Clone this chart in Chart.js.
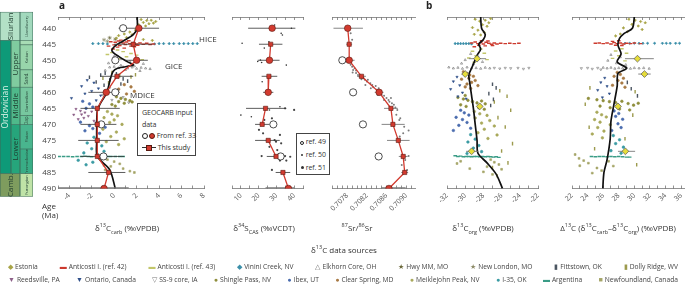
<!DOCTYPE html>
<html>
<head>
<meta charset="utf-8">
<script src="https://cdn.jsdelivr.net/npm/chart.js@4.4.1/dist/chart.umd.min.js"></script>
<style>
body { margin: 0; width: 685px; height: 293px; position: relative; overflow: hidden; background: #fff;
  font-family: 'Open Sans', sans-serif; color: #333; }
canvas { position: absolute; left: 0; top: 0; }
.t { position: absolute; white-space: nowrap; font-size: 8px; line-height: 1; }
.c { transform: translate(-50%, -50%); }
sup, sub { font-size: 5.5px; line-height: 0; }
.box { position: absolute; border: 0.8px solid #444; background: #fff; font-size: 7.1px; line-height: 11.6px; padding: 3px 0 0 4px; box-sizing: border-box; white-space: nowrap; letter-spacing: -0.1px; }
.oc, .rc { display: inline-block; width: 6px; height: 6px; border-radius: 50%; vertical-align: -1px; box-sizing: border-box; }
.oc { border: 1px solid #222; background: #fff; }
.rc { background: #d23a2f; border: 0.7px solid #5a1a10; margin-left: 1px; }
.rs { display: inline-block; position: relative; width: 14px; height: 6px; vertical-align: -1px; }
.rs:before { content: ''; position: absolute; left: 0; right: 0; top: 2.5px; height: 1px; background: #333; }
.rs:after { content: ''; position: absolute; left: 4px; top: 0; width: 6px; height: 6px; background: #d23a2f; border: 0.6px solid #5a1a10; box-sizing: border-box; }
.legend { position: absolute; left: 8px; width: 670px; display: flex; justify-content: space-between; font-size: 6.7px; line-height: 1; white-space: nowrap; color: #444; }
.legend span.g { margin-right: 2px; font-size: 7px; }
</style>
</head>
<body>
<canvas id="pa1" width="685" height="293"></canvas>
<canvas id="pa2" width="685" height="293"></canvas>
<canvas id="pa3" width="685" height="293"></canvas>
<canvas id="pb1" width="685" height="293"></canvas>
<canvas id="pb2" width="685" height="293"></canvas>

<div class="t" style="left:59px;top:0px;font-size:10px;font-weight:bold;color:#222">a</div>
<div class="t" style="left:426px;top:0px;font-size:10px;font-weight:bold;color:#222">b</div>
<div class="t" style="left:199px;top:35px">HICE</div>
<div class="t" style="left:165px;top:62px">GICE</div>
<div class="t" style="left:130px;top:91px">MDICE</div>
<div class="box" style="left:137px;top:103px;width:59px;height:53px">
  <div>GEOCARB input</div>
  <div>data</div>
  <div><span class="oc"></span><span class="rc"></span> From ref. 33</div>
  <div><span class="rs"></span> This study</div>
</div>
<div class="box" style="left:296px;top:133px;width:34px;height:42px;font-size:7px;line-height:13px;padding-top:1px;padding-left:3px">
  <div><span class="oc" style="width:4px;height:4px;border-width:0.7px"></span> ref. 49</div>
  <div><span style="display:inline-block;width:2px;height:2px;background:#333;border-radius:50%;vertical-align:1px;margin:0 1px"></span> ref. 50</div>
  <div><span style="display:inline-block;width:3px;height:3px;background:#333;border-radius:50%;vertical-align:1px;margin:0 0.5px"></span> ref. 51</div>
</div>
<div class="t" style="left:42px;top:201px;line-height:9px;font-size:8px">Age<br>(Ma)</div>

<div class="t c" style="left:127px;top:228px">δ<sup>13</sup>C<sub>carb</sub> (‰VPDB)</div>
<div class="t c" style="left:264px;top:228px">δ<sup>34</sup>S<sub>CAS</sub> (‰VCDT)</div>
<div class="t c" style="left:357px;top:228px"><sup>87</sup>Sr/<sup>86</sup>Sr</div>
<div class="t c" style="left:483px;top:228px">δ<sup>13</sup>C<sub>org</sub> (‰VPDB)</div>
<div class="t c" style="left:618px;top:228px">Δ<sup>13</sup>C (δ<sup>13</sup>C<sub>carb</sub>–δ<sup>13</sup>C<sub>org</sub>) (‰VPDB)</div>
<div class="t c" style="left:344px;top:250px">δ<sup>13</sup>C data sources</div>

<div class="legend" id="leg1" style="top:263px"></div>
<div class="legend" id="leg2" style="top:276px"></div>

<script>
// ---- sample ages for the binned GEOCARB inputs ----
const ages = [440, 445, 450, 455, 460, 465, 470, 475, 480, 485, 490];
const markerKind = ['c', 's', 'c', 's', 'c', 's', 's', 's', 's', 's', 'c']; // c = ref. 33, s = this study
const openAgesCarb = [440, 450, 460, 470, 480];
const openAgesSulf = [470, 480];
const openAgesSr = [450, 460, 470, 480];

// ---- δ13C carb ----
const carbStudy = [2.2, 1.7, 2.0, 0.25, -0.7, -1.5, -1.5, -1.5, -1.5, -0.5, -0.9];
const carbLo = [0.4, 0.0, 1.0, -1.25, -2.3, -3.0, -3.0, -3.2, -3.0, -2.3, null];
const carbHi = [4.0, 3.4, 3.0, 1.7, 0.5, 0.5, 0.2, 0.4, 0.9, 1.0, null];
const carbBand = [-5, 1.3];
const carbOpen = [0.8, 0.1, 0.1, -1.15, -0.95];
const carbCurve = [[2.05,436.5],[2.05,440],[1.7,442],[0.8,444],[0.1,445.5],[-0.2,447],[0.4,448.8],[1.2,450.5],[1.7,451.5],[0.3,452.5],[-0.1,453.5],[-0.35,456],[-0.65,460],[-1.25,463.6],[-1.5,465.8],[-1.55,470],[-1.55,475],[-1.5,480],[-0.4,484.1],[0.1,490]];

const carbEstonia = [[2.4,437.3],[2.9,437.6],[3.3,437.5],[3.7,437.9],[2.6,438.2],[3.1,438.6],[2.2,438.9],[3.5,438.4],[2.8,439.3],[1.9,440.6],[1.4,441.2],[0.9,441.8],[0.4,442.3],[1.6,442.0],[0.2,443.1],[2.6,443.5],[1.1,442.9],[3.4,443.8]];
const carbAnti42 = [[-0.3,444.2],[0.1,444.4],[0.4,444.0],[0.8,444.6],[1.1,444.3],[1.4,444.8],[1.7,444.5],[2.0,444.9],[2.3,444.6],[2.6,445.0],[2.9,444.7],[3.2,445.1],[3.5,444.9],[0.0,445.2],[0.5,445.4],[1.0,445.1],[1.5,445.6],[2.1,445.3],[-0.5,445.6],[0.3,445.9],[0.9,446.2],[1.8,445.8],[0.6,443.7],[1.3,443.9],[-0.1,446.5]];
const carbAnti43 = [[0.3,446.8],[0.8,447.3],[1.5,447.9],[-0.2,447.6],[2.0,448.4],[1.1,448.9],[0.4,449.5],[2.5,449.8],[-0.6,448.2]];
const carbVinini = [[-1.9,444.8],[-1.4,444.8],[-1.0,444.8],[-0.6,444.9],[3.6,444.9],[4.0,444.8],[4.4,444.8],[4.9,444.8],[5.3,444.8],[5.8,444.8],[6.2,444.8],[6.6,444.8],[7.0,444.8],[7.4,444.8]];
const carbElkhorn = [[-0.4,452.2],[0,452.0],[0.4,452.4],[0.8,452.1],[1.2,452.5],[1.6,452.2],[2.0,452.6],[2.4,452.3],[2.8,452.5],[3.2,452.7],[0.6,451.6],[1.8,451.8],[1.0,453.0],[-0.8,453.2],[2.3,453.3],[0.0,448.8],[0.6,449.6],[1.4,450.4],[-0.5,450.9],[2.6,451.1]];
const carbHwyMM = [[0.1,443.4],[-0.4,443.0]];
const carbNewLondon = [[-0.9,443.6],[-0.6,444.1]];
const carbFittstown = [[-0.8,454.0],[-1.2,454.6],[0.2,454.2],[0.8,455.8],[-0.4,456.2],[-1.6,456.8],[0.6,457.4],[-0.9,457.8],[1.2,456.5],[-2.2,455.3]];
const carbDolly = [[-0.2,453.8],[0.5,454.8],[1.5,455.2],[-1.0,455.6],[1.9,454.5],[-0.5,457.0]];
const carbReedsville = [[-3.4,465.2],[-3.0,465.8],[-2.6,466.3],[-2.9,466.9],[-2.3,467.4],[-3.6,467.0],[-2.0,466.0],[-2.7,468.0],[-3.2,468.4],[-1.8,468.9]];
const carbOntario = [[-2.4,456.2],[-1.8,457.0],[-2.9,458.1],[-1.4,458.8],[-2.0,459.6],[-2.6,460.4],[-1.2,461.0],[-3.8,461.8],[-1.6,462.5]];
const carbSS9 = [[-0.4,458.6],[0.3,459.3],[-1.0,460.8],[0.8,461.5],[-0.2,462.4],[1.3,463.2]];
const carbShingle = [[0.2,461.4],[0.6,461.9],[1.0,462.2],[1.4,462.6],[0.4,462.9],[0.9,463.4],[-0.2,463.8],[1.6,463.0],[0.1,464.3]];
const carbIbex = [[-2.8,462.8],[-2.2,463.6],[-1.9,464.6],[-2.5,465.0],[-1.6,469.6],[-2.2,470.4],[-1.9,471.3],[-2.6,472.0],[-1.3,472.8],[-0.8,470.9],[-3.0,469.3]];
const carbClear = [[0.9,457.6],[1.5,458.3],[0.4,459.0],[1.8,459.7],[1.1,460.5]];
const carbMeiklejohn = [[-0.6,466.0],[-0.2,466.8],[0.3,467.3],[-0.9,467.9],[0.0,468.6],[-0.4,469.4],[0.7,470.0],[-1.0,471.5],[0.2,472.4],[-0.3,473.8],[0.9,474.5],[-0.7,475.4],[0.4,476.3]];
const carbI35 = [[-1.8,474.0],[-2.4,475.8],[-1.1,476.7],[-2.0,477.6],[-0.9,478.4],[-2.7,478.9],[-1.5,479.3],[-3.2,481.2],[-1.9,481.8],[-2.5,482.6]];
const carbArgentina = [[-4.9,480.0],[-4.5,480.0],[-4.1,480.0],[-3.7,480.1],[-3.3,480.0],[-2.9,480.0],[-2.6,479.9],[-2.3,480.0],[-2.0,480.1],[-0.6,480.0],[-0.3,480.0],[0.1,480.0],[0.5,480.0],[0.8,480.0]];
const carbNewfoundland = [[-0.6,481.0],[0.0,481.6],[0.5,482.3],[-0.3,483.1],[0.8,483.8],[-0.9,482.8],[1.4,484.6],[1.8,485.0],[-0.8,484.2]];

// ---- δ34S CAS ----
const sulfStudy = [27.6, 26.8, 26.1, 25.8, 25.4, 23.9, 22.0, 25.4, 29.8, 33.7, 36.8];
const sulfLo = [14.1, 20.2, 19.5, 21.7, 22.5, 12.9, 18.0, 18.0, 24.6, 29.6, null];
const sulfHi = [40.7, 33.4, 31.8, 30.5, 28.3, 35.6, 26.1, 31.9, 34.9, 37.8, null];
const sulfBand = [23.9, 40];
const sulfOpen = [28.3, 32.4];
const sulfPairs = [[1, 2], [3, 4], [5, 6], [7, 8], [9, 10]];
const sulfRef50 = [[29.0,439.0],[38.5,440.0],[32.7,441.6],[33.4,442.1],[10.7,444.7],[25.8,444.2],[23.2,446.2],[19.5,450.4],[21.0,449.9],[21.7,450.7],[35.6,451.5],[22.0,456.7],[10.0,467.1],[15.9,467.6],[26.1,465.5],[32.0,464.5]];
const sulfRef51 = [[34.9,465.0],[40.0,465.5],[23.2,468.6],[27.5,468.1],[20.2,471.7],[22.5,472.8],[32.0,473.3],[29.0,474.9],[32.7,475.9],[29.8,475.4],[26.1,477.0],[30.5,478.0],[21.7,479.9],[34.9,479.9],[37.8,480.1],[32.0,481.3],[35.6,481.3],[27.5,484.2]];

// ---- 87Sr/86Sr ----
const srStudy = [0.70781, 0.70784, 0.70784, 0.70809, 0.70845, 0.70869, 0.70873, 0.70884, 0.70894, 0.70897, 0.70865];
const srLo = [0.70752, 0.70778, 0.70773, 0.70800, 0.70836, 0.70855, 0.70850, 0.70861, 0.70885, 0.70890, null];
const srHi = [0.70812, 0.70790, 0.70795, 0.70818, 0.70854, 0.70883, 0.70897, 0.70907, 0.70903, 0.70904, null];
const srBand = [0.70849, 0.70899];
const srOpen = [0.70770, 0.70792, 0.70812, 0.70844];
const srDots = [[0.70787,441.6],[0.70790,443.6],[0.70787,451.4],[0.70790,452.0],[0.70792,453.0],[0.70795,452.5],[0.70791,453.8],[0.70798,454.0],[0.70802,454.6],[0.70805,455.1],[0.70813,455.6],[0.70816,456.1],[0.70820,456.6],[0.70822,456.1],[0.70827,457.2],[0.70831,457.7],[0.70833,458.4],[0.70838,458.0],[0.70840,459.2],[0.70844,458.7],[0.70847,460.3],[0.70850,460.8],[0.70855,461.1],[0.70860,461.8],[0.70864,462.4],[0.70866,462.9],[0.70871,463.4],[0.70875,463.9],[0.70878,464.7],[0.70882,465.5],[0.70869,461.8],[0.70855,462.4],[0.70842,460.8],[0.70828,458.7],[0.70817,457.7],[0.70809,455.9],[0.70798,453.2],[0.70880,467.0],[0.70886,468.6],[0.70888,468.1],[0.70896,470.7],[0.70905,471.9],[0.70894,472.8],[0.70887,473.8],[0.70905,479.9],[0.70898,481.1],[0.70891,482.7],[0.70902,484.2]];

// ---- δ13C org ----
const orgCurve = [[-28.3,436.5],[-28.2,440],[-27.8,442],[-28.0,443.5],[-28.5,445],[-28.3,446.5],[-28.7,448.5],[-29.0,450.5],[-29.3,452.5],[-29.6,454.5],[-29.5,457],[-29.3,461],[-29.1,465],[-28.9,470],[-28.7,475],[-28.6,479],[-27.6,482],[-26.6,485.5],[-25.9,490]];
const orgDiamondAges = [449.5, 454.3, 464.4, 478.4];
const orgDiamond = [-28.7, -30.0, -28.4, -29.3];
const orgDiamondLo = [-29.6, -30.4, null, -29.9];
const orgDiamondHi = [-27.7, -29.6, null, -28.6];
const orgEstonia = [[-28.9,437.2],[-28.4,437.8],[-27.8,437.5],[-27.4,438.3],[-28.1,438.9],[-27.6,439.4],[-29.2,439.8],[-28.6,440.6],[-27.9,441.3],[-28.3,442.1],[-27.2,437.0],[-29.0,441.9]];
const orgAnti42 = [[-29.3,444.6],[-28.9,444.3],[-28.6,444.8],[-28.3,444.5],[-28.0,444.9],[-27.7,444.4],[-27.4,444.7],[-27.1,445.0],[-26.8,444.6],[-26.5,444.9],[-26.1,444.7],[-25.6,444.8],[-25.1,444.7],[-24.6,444.8],[-24.1,444.7],[-28.5,445.3],[-27.8,445.5],[-27.0,445.4],[-29.0,445.8],[-28.2,443.9],[-27.5,444.0]];
const orgVinini = [[-31.1,444.8],[-30.8,444.8],[-30.5,444.8],[-30.2,444.8],[-29.9,444.8],[-29.6,444.8],[-29.3,444.9]];
const orgAnti43 = [[-28.3,446.5],[-29.2,447.2],[-27.9,447.8],[-28.8,448.6],[-29.6,449.3],[-27.6,449.8],[-29.0,450.6]];
const orgElkhorn = [[-29.4,448.0],[-28.6,448.8],[-30.0,449.9],[-28.1,450.5],[-29.1,451.2],[-30.4,451.0],[-31.8,452.2],[-31.3,452.5],[-30.8,452.3],[-30.3,452.6],[-29.8,452.2],[-29.3,452.5],[-28.8,452.4],[-28.3,452.6],[-27.8,452.3],[-27.3,452.5]];
const orgSS9 = [[-26.8,452.4],[-26.2,452.6],[-25.6,452.4],[-25.0,452.5],[-24.2,452.4],[-23.6,452.7],[-23.0,452.4]];
const orgClear = [[-30.2,453.6],[-29.8,454.1],[-29.5,454.6],[-29.1,455.0],[-29.6,455.6],[-30.4,455.9],[-28.9,456.3],[-29.3,456.9],[-29.8,457.4],[-28.6,457.9],[-30.0,458.3],[-29.4,458.8]];
const orgOntario = [[-30.9,455.2],[-31.3,456.6],[-30.6,457.8],[-31.6,459.0],[-30.3,460.1],[-30.8,461.3],[-29.9,462.0]];
const orgIbex = [[-30.5,465.6],[-30.1,466.4],[-29.6,467.1],[-31.0,467.8],[-30.3,468.5],[-29.8,469.4],[-30.7,470.3],[-29.4,471.2],[-31.3,471.9]];
const orgShingle = [[-30.8,461.6],[-30.2,462.1],[-29.7,462.5],[-29.2,462.9],[-28.7,463.3],[-28.2,462.7],[-27.8,463.6],[-30.5,463.9],[-29.9,464.4],[-28.5,464.8],[-27.9,465.3],[-30.0,461.0]];
const orgMeiklejohn = [[-29.0,466.0],[-28.4,466.7],[-27.6,467.2],[-28.9,468.0],[-27.3,468.8],[-28.2,469.6],[-26.8,470.5],[-27.9,471.5],[-28.6,472.6],[-26.5,473.3],[-27.5,474.4]];
const orgDolly = [[-26.2,459.5],[-25.4,461.2],[-26.8,463.0],[-25.0,465.6],[-26.4,467.9],[-25.6,470.8],[-24.8,476.0],[-26.0,478.3],[-25.3,482.0],[-27.0,483.5],[-26.5,486.0]];
const orgFittstown = [[-27.0,457.5],[-26.6,458.6],[-27.4,460.4],[-26.9,462.2],[-27.2,464.1]];
const orgI35 = [[-29.4,473.2],[-28.9,474.6],[-29.7,475.5],[-28.5,476.6],[-29.1,477.4],[-28.2,478.5],[-29.8,479.1]];
const orgArgentina = [[-31.1,479.8],[-30.8,480.0],[-30.5,479.9],[-30.2,480.1],[-29.9,480.0],[-29.6,480.0],[-29.3,480.1],[-29.0,480.0],[-28.7,480.0],[-28.4,480.1],[-28.1,480.0],[-27.8,480.1],[-27.5,480.0],[-27.2,480.1],[-26.9,480.2],[-26.6,480.1],[-26.3,480.3]];
const orgNewfoundland = [[-27.2,481.0],[-26.8,481.8],[-26.3,482.5],[-27.6,483.2],[-26.0,484.0],[-28.0,484.8],[-27.0,485.6],[-30.5,481.5],[-30.9,482.2],[-29.5,483.8]];

// ---- Δ13C ----
const capCurve = [[30.0,436.5],[29.75,440],[28.7,441.6],[28.1,443.2],[27.9,445.3],[28.3,448],[27.8,450.5],[29.0,452.5],[27.9,454.1],[27.8,458],[27.4,463.5],[27.0,469],[26.9,474.5],[26.5,481],[26.1,485],[25.95,490]];
const capDiamond = [30.4, 31.3, 27.9, 28.85];
const capDiamondLo = [28.8, 30.5, null, 27.9];
const capDiamondHi = [32.5, 32.1, null, 30.1];
const capEstonia = [[29.3,437.2],[30.1,437.5],[30.8,437.9],[31.4,438.3],[29.7,438.8],[30.5,439.3],[28.6,439.9],[31.0,440.4],[29.1,441.1],[28.2,441.8],[27.6,442.4]];
const capAnti42 = [[25.0,444.7],[25.5,444.6],[26.0,444.8],[26.5,444.6],[27.0,444.9],[27.4,444.5],[27.8,444.8],[28.2,444.6],[28.6,444.9],[29.0,444.7],[29.5,444.8],[30.0,444.6],[30.8,444.8],[27.6,445.3],[28.4,445.4],[27.2,444.1],[28.0,443.9]];
const capVinini = [[28.8,444.7],[29.4,444.7],[30.0,444.7],[30.6,444.7],[31.1,444.7],[31.7,444.7],[32.6,444.7],[33.6,444.7],[34.1,444.7],[34.6,444.7],[35.3,444.7],[35.8,444.7]];
const capAnti43 = [[28.4,446.4],[27.6,447.1],[29.0,447.8],[28.0,448.6],[27.2,449.4],[28.8,450.2]];
const capElkhorn = [[27.0,448.3],[28.2,449.0],[26.6,450.1],[27.7,450.9],[28.9,451.4],[26.0,452.3],[26.5,452.5],[27.0,452.3],[27.5,452.6],[28.0,452.4],[28.5,452.5],[29.0,452.3],[29.5,452.6],[30.0,452.4],[30.6,452.5],[31.2,452.4],[31.9,452.6]];
const capSS9 = [[23.2,452.5],[24.0,452.4],[24.6,452.7],[25.3,452.4],[25.7,452.9]];
const capClear = [[27.8,453.8],[28.2,454.4],[27.4,455.0],[28.6,455.6],[27.9,456.3],[28.4,457.1],[27.2,457.8],[28.8,458.4]];
const capOntario = [[26.2,455.5],[25.7,456.9],[26.5,458.1],[25.3,459.3],[26.8,460.4],[25.9,461.6]];
const capShingle = [[24.1,461.9],[25.2,462.3],[26.0,462.6],[26.8,462.9],[27.6,463.2],[28.4,462.8],[29.2,463.5],[29.9,464.0],[30.5,463.4],[25.6,464.3],[26.9,464.8],[28.1,465.2],[29.4,465.5]];
const capMeiklejohn = [[25.2,466.2],[25.8,467.0],[26.4,467.7],[24.9,468.5],[25.6,469.3],[26.9,470.1],[25.3,471.0],[26.1,472.1],[24.6,473.0],[25.9,474.2]];
const capIbex = [[27.4,465.8],[28.0,466.6],[27.6,467.5],[28.5,468.4],[27.9,469.8],[28.3,471.0],[27.1,471.9]];
const capDolly = [[24.3,458.6],[30.1,459.8],[23.7,463.7],[29.8,467.1],[24.2,470.9],[28.8,474.5],[24.9,477.6],[30.3,482.6]];
const capFittstown = [[29.1,456.9],[29.6,458.9],[30.4,461.1]];
const capI35 = [[27.3,473.5],[28.1,474.8],[27.6,476.0],[28.6,477.1],[27.0,478.2],[28.3,479.0]];
const capArgentina = [[24.5,480.0],[25.0,480.1],[25.5,480.0],[26.0,480.0],[26.5,480.1],[27.0,480.0],[27.5,480.1],[28.0,480.0],[28.5,480.1],[29.0,480.2],[29.4,480.2]];
const capNewfoundland = [[22.4,479.4],[22.9,480.6],[23.5,481.3],[24.1,482.1],[23.0,482.9],[25.2,483.6],[25.8,484.4],[24.6,485.2],[26.7,481.5],[27.3,483.0]];

// ---- geologic time scale ----
const tsUnits = ['Silurian', 'Llandovery', 'Ordovician', 'Upper', 'Middle', 'Lower', 'Hir.', 'Katian', 'Sand.', 'Darriwilian', 'Dap.', 'Floian', 'Tremadocian', 'Camb.', 'Furongian'];
const tsTop = [435, 435, 443.8, 443.8, 458.4, 470, 443.8, 445.2, 453, 458.4, 467.3, 470, 477.7, 485.4, 485.4];
const tsBase = [443.8, 443.8, 485.4, 458.4, 470, 485.4, 445.2, 453, 458.4, 467.3, 470, 477.7, 485.4, 492.5, 492.5];
const tsRank = ['wide', 'stage', 'period', 'epoch', 'epoch', 'epoch', 'stage', 'stage', 'stage', 'stage', 'stage', 'stage', 'stage', 'wide', 'stage'];
const tsFill = {'Silurian':'#b3e0c6','Llandovery':'#a2d9bd','Ordovician':'#0e9a78','Upper':'#80cb9f','Middle':'#4fb98a','Lower':'#26a57b','Hir.':'#a8dcb5','Katian':'#98d5ab','Sand.':'#8bcea3','Darriwilian':'#77c79f','Dap.':'#6ac399','Floian':'#49b58e','Tremadocian':'#39ad86','Camb.':'#7e9c5e','Furongian':'#bfe3a7'};
const tsCols = {wide: [0, 20], period: [0, 11], epoch: [11, 20], stage: [20, 33]};

// ---- localities ----
const siteOrder = [
  ['Estonia', 'Anticosti I. (ref. 42)', 'Anticosti I. (ref. 43)', 'Vinini Creek, NV', 'Elkhorn Core, OH', 'Hwy MM, MO', 'New London, MO', 'Fittstown, OK', 'Dolly Ridge, WV'],
  ['Reedsville, PA', 'Ontario, Canada', 'SS-9 core, IA', 'Shingle Pass, NV', 'Ibex, UT', 'Clear Spring, MD', 'Meiklejohn Peak, NV', 'I-35, OK', 'Argentina', 'Newfoundland, Canada']
];
const siteStyle = {
  'Estonia': {color: '#a8a447', shape: 'rectRot', glyph: '◆'},
  'Anticosti I. (ref. 42)': {color: '#cc3a2e', shape: 'line', glyph: '▬'},
  'Anticosti I. (ref. 43)': {color: '#c2c66a', shape: 'line', glyph: '▬'},
  'Vinini Creek, NV': {color: '#3b8fa9', shape: 'rectRot', glyph: '◆'},
  'Elkhorn Core, OH': {color: '#6f6f6f', shape: 'triangle', open: true, glyph: '△'},
  'Hwy MM, MO': {color: '#6a683a', shape: 'star', glyph: '★'},
  'New London, MO': {color: '#8d8b68', shape: 'star', glyph: '★'},
  'Fittstown, OK': {color: '#4b5561', shape: 'line', rot: 90, glyph: '▮'},
  'Dolly Ridge, WV': {color: '#9c9a4d', shape: 'line', rot: 90, glyph: '▮'},
  'Reedsville, PA': {color: '#8d5f88', shape: 'triangle', rot: 180, glyph: '▼'},
  'Ontario, Canada': {color: '#30508a', shape: 'triangle', rot: 180, glyph: '▼'},
  'SS-9 core, IA': {color: '#777777', shape: 'triangle', rot: 180, open: true, glyph: '▽'},
  'Shingle Pass, NV': {color: '#8f8e3c', shape: 'circle', glyph: '●'},
  'Ibex, UT': {color: '#4a6cae', shape: 'circle', glyph: '●'},
  'Clear Spring, MD': {color: '#a87a45', shape: 'circle', glyph: '●'},
  'Meiklejohn Peak, NV': {color: '#a9a95b', shape: 'circle', glyph: '●'},
  'I-35, OK': {color: '#3a9ba3', shape: 'circle', glyph: '●'},
  'Argentina': {color: '#3a9c86', shape: 'line', glyph: '▬'},
  'Newfoundland, Canada': {color: '#a5a567', shape: 'rect', glyph: '■'}
};

const carbSites = {'Estonia': carbEstonia, 'Anticosti I. (ref. 42)': carbAnti42, 'Anticosti I. (ref. 43)': carbAnti43, 'Vinini Creek, NV': carbVinini, 'Elkhorn Core, OH': carbElkhorn, 'Hwy MM, MO': carbHwyMM, 'New London, MO': carbNewLondon, 'Fittstown, OK': carbFittstown, 'Dolly Ridge, WV': carbDolly, 'Reedsville, PA': carbReedsville, 'Ontario, Canada': carbOntario, 'SS-9 core, IA': carbSS9, 'Shingle Pass, NV': carbShingle, 'Ibex, UT': carbIbex, 'Clear Spring, MD': carbClear, 'Meiklejohn Peak, NV': carbMeiklejohn, 'I-35, OK': carbI35, 'Argentina': carbArgentina, 'Newfoundland, Canada': carbNewfoundland};
const orgSites = {'Estonia': orgEstonia, 'Anticosti I. (ref. 42)': orgAnti42, 'Anticosti I. (ref. 43)': orgAnti43, 'Vinini Creek, NV': orgVinini, 'Elkhorn Core, OH': orgElkhorn, 'Fittstown, OK': orgFittstown, 'Dolly Ridge, WV': orgDolly, 'Ontario, Canada': orgOntario, 'SS-9 core, IA': orgSS9, 'Shingle Pass, NV': orgShingle, 'Ibex, UT': orgIbex, 'Clear Spring, MD': orgClear, 'Meiklejohn Peak, NV': orgMeiklejohn, 'I-35, OK': orgI35, 'Argentina': orgArgentina, 'Newfoundland, Canada': orgNewfoundland};
const capSites = {'Estonia': capEstonia, 'Anticosti I. (ref. 42)': capAnti42, 'Anticosti I. (ref. 43)': capAnti43, 'Vinini Creek, NV': capVinini, 'Elkhorn Core, OH': capElkhorn, 'Fittstown, OK': capFittstown, 'Dolly Ridge, WV': capDolly, 'Ontario, Canada': capOntario, 'SS-9 core, IA': capSS9, 'Shingle Pass, NV': capShingle, 'Ibex, UT': capIbex, 'Clear Spring, MD': capClear, 'Meiklejohn Peak, NV': capMeiklejohn, 'I-35, OK': capI35, 'Argentina': capArgentina, 'Newfoundland, Canada': capNewfoundland};

// ---- layout ----
const W = 685, H = 293, TOP = 17, BOTTOM = 188.5, AXIS_H = 30;
const RED = '#d23a2f', RED_EDGE = '#5a1a10';
Chart.defaults.font.family = "'Open Sans', sans-serif";

const pts = arr => arr.map(([x, y]) => ({x, y}));

function siteSets(sites) {
  return Object.keys(sites).map(name => {
    const st = siteStyle[name];
    const isLine = st.shape === 'line';
    return {
      data: pts(sites[name]), pointStyle: st.shape, rotation: st.rot || 0,
      pointRadius: isLine ? 1.8 : (st.shape === 'star' ? 2 : 1.3),
      backgroundColor: st.open ? 'rgba(255,255,255,0)' : st.color,
      borderColor: st.color, borderWidth: isLine ? 1.4 : 0.6, order: 6
    };
  });
}

function errSet(vals, lo, hi, agesList, color, width) {
  const data = [];
  agesList.forEach((a, i) => {
    if (lo[i] === null) return;
    data.push({x: lo[i], y: a}, {x: hi[i], y: a}, {x: vals[i], y: null});
  });
  return {data, showLine: true, pointRadius: 0, borderColor: color, borderWidth: width, spanGaps: false, order: 3};
}

function bandSet(band) {
  return {data: [{x: band[0], y: 490}, {x: band[1], y: 490}], showLine: true, pointRadius: 0,
    borderColor: 'rgba(120,120,120,0.75)', borderWidth: 3, order: 4};
}

function markerSets(vals) {
  const circ = [], sq = [];
  ages.forEach((a, i) => (markerKind[i] === 'c' ? circ : sq).push({x: vals[i], y: a}));
  return [
    {data: circ, pointStyle: 'circle', pointRadius: 3.3, backgroundColor: RED, borderColor: RED_EDGE, borderWidth: 0.6, order: 0},
    {data: sq, pointStyle: 'rect', pointRadius: 3, backgroundColor: RED, borderColor: RED_EDGE, borderWidth: 0.6, order: 0}
  ];
}

function openSet(openAges, vals) {
  return {data: openAges.map((a, i) => ({x: vals[i], y: a})), pointStyle: 'circle', pointRadius: 3.6,
    backgroundColor: '#fff', borderColor: '#222', borderWidth: 0.8, order: 1};
}

function redLine(vals, pairs) {
  const data = [];
  if (pairs) {
    pairs.forEach(([i, j]) => data.push({x: vals[i], y: ages[i]}, {x: vals[j], y: ages[j]}, {x: vals[j], y: null}));
  } else {
    ages.forEach((a, i) => data.push({x: vals[i], y: a}));
  }
  return {data, showLine: true, pointRadius: 0, borderColor: RED, borderWidth: 1.3, spanGaps: false, order: 2};
}

function curveSet(curve) {
  return {data: pts(curve), showLine: true, pointRadius: 0, borderColor: '#111', borderWidth: 1.7, tension: 0.3, order: 5};
}

function diamondSet(dAges, vals) {
  return {data: dAges.map((a, i) => ({x: vals[i], y: a})), pointStyle: 'rectRot', pointRadius: 3.4,
    backgroundColor: '#e6dd3a', borderColor: '#555', borderWidth: 0.7, order: 0};
}

const timescale = {
  id: 'timescale',
  afterDraw(chart) {
    const ctx = chart.ctx, y = chart.scales.y;
    ctx.save();
    tsUnits.forEach((name, i) => {
      const [x0, x1] = tsCols[tsRank[i]];
      const y0 = y.getPixelForValue(tsTop[i]), y1 = y.getPixelForValue(tsBase[i]);
      ctx.fillStyle = tsFill[name];
      ctx.fillRect(x0, y0, x1 - x0, y1 - y0);
      ctx.strokeStyle = '#3c6a58';
      ctx.lineWidth = 0.5;
      ctx.strokeRect(x0 + 0.25, y0, x1 - x0 - 0.5, y1 - y0);
      const stage = tsRank[i] === 'stage';
      const size = stage ? (name.length > 5 ? 4.2 : 4.6) : (name === 'Ordovician' ? 8.5 : 8);
      ctx.font = size + "px 'Open Sans', sans-serif";
      ctx.fillStyle = name === 'Ordovician' ? '#d9f1e6' : (stage ? '#2b4a3d' : '#1e3a2e');
      ctx.textAlign = 'center';
      ctx.textBaseline = 'middle';
      ctx.translate((x0 + x1) / 2, (y0 + y1) / 2);
      ctx.rotate(-Math.PI / 2);
      if (ctx.measureText(name).width < (y1 - y0) + 2) ctx.fillText(name, 0, 0.5);
      ctx.setTransform(1, 0, 0, 1, 0, 0);
    });
    ctx.restore();
  }
};

function makePanel(id, o) {
  const gridOpts = {drawOnChartArea: false, drawTicks: true, tickLength: -3, tickColor: '#777', tickWidth: 0.8};
  return new Chart(document.getElementById(id), {
    type: 'scatter',
    data: {datasets: o.datasets},
    options: {
      responsive: false, animation: false, events: [],
      layout: {padding: {left: o.left, right: o.right, top: TOP, bottom: H - BOTTOM - AXIS_H}, autoPadding: false},
      plugins: {legend: {display: false}, tooltip: {enabled: false}},
      scales: {
        x: {
          type: 'linear', position: 'bottom', min: o.min, max: o.max,
          ticks: {stepSize: o.step, includeBounds: false, autoSkip: false, minRotation: 45, maxRotation: 45,
            padding: 6, color: '#555', font: {size: 7}, callback: o.label},
          grid: gridOpts, border: {display: true, color: '#777', width: 0.8},
          afterFit: s => { s.height = AXIS_H; s.paddingLeft = 0; s.paddingRight = 0; }
        },
        xTop: {
          type: 'linear', axis: 'x', position: 'top', min: o.min, max: o.max,
          ticks: {display: false, stepSize: o.step, includeBounds: false, autoSkip: false},
          grid: gridOpts, border: {display: true, color: '#777', width: 0.8},
          afterFit: s => { s.height = 0; s.paddingLeft = 0; s.paddingRight = 0; }
        },
        y: {
          type: 'linear', min: 436.5, max: 490, reverse: true, display: !!o.showY,
          ticks: {stepSize: 5, includeBounds: false, padding: 2, color: '#444', font: {size: 8}},
          grid: {display: false, drawTicks: false}, border: {display: false},
          afterFit: s => { s.width = 20; s.paddingTop = 0; s.paddingBottom = 0; }
        }
      }
    },
    plugins: o.plugins || []
  });
}

// panel a: δ13C carb
makePanel('pa1', {
  left: 38, right: W - 204, min: -5, max: 8, step: 1, showY: true, plugins: [timescale],
  label: v => (v % 2 === 0 ? String(v) : ''),
  datasets: [
    ...markerSets(carbStudy), openSet(openAgesCarb, carbOpen), redLine(carbStudy),
    errSet(carbStudy, carbLo, carbHi, ages, '#333', 0.8), bandSet(carbBand),
    curveSet(carbCurve), ...siteSets(carbSites)
  ]
});

// panel a: δ34S CAS
makePanel('pa2', {
  left: 212, right: W - 303, min: 5, max: 45, step: 5,
  label: v => (v % 10 === 0 ? String(v) : ''),
  datasets: [
    ...markerSets(sulfStudy), openSet(openAgesSulf, sulfOpen), redLine(sulfStudy, sulfPairs),
    errSet(sulfStudy, sulfLo, sulfHi, ages, '#333', 0.8), bandSet(sulfBand),
    {data: pts(sulfRef50), pointRadius: 0.8, backgroundColor: '#333', borderWidth: 0, order: 6},
    {data: pts(sulfRef51), pointRadius: 1.1, backgroundColor: '#444', borderWidth: 0, order: 6}
  ]
});

// panel a: 87Sr/86Sr
makePanel('pa3', {
  left: 312, right: W - 415, min: 0.70749, max: 0.70918, step: 0.0001,
  label: v => (Math.round(v * 1e4) % 4 === 2 ? v.toFixed(4) : ''),
  datasets: [
    ...markerSets(srStudy), openSet(openAgesSr, srOpen), redLine(srStudy),
    errSet(srStudy, srLo, srHi, ages, '#777', 0.9), bandSet(srBand),
    {data: pts(srDots), pointRadius: 1, backgroundColor: 'rgba(90,90,90,0.8)', borderWidth: 0, order: 6}
  ]
});

// panel b: δ13C org
makePanel('pb1', {
  left: 427, right: W - 538, min: -32, max: -22, step: 1,
  label: v => (v % 2 === 0 ? String(v) : ''),
  datasets: [
    diamondSet(orgDiamondAges, orgDiamond),
    errSet(orgDiamond, orgDiamondLo, orgDiamondHi, orgDiamondAges, '#777', 0.9),
    curveSet(orgCurve), ...siteSets(orgSites)
  ]
});

// panel b: Δ13C
makePanel('pb2', {
  left: 552, right: 0, min: 22, max: 36.5, step: 1,
  label: v => (v % 2 === 0 ? String(v) : ''),
  datasets: [
    diamondSet(orgDiamondAges, capDiamond),
    errSet(capDiamond, capDiamondLo, capDiamondHi, orgDiamondAges, '#777', 0.9),
    curveSet(capCurve), ...siteSets(capSites)
  ]
});

// locality legend
siteOrder.forEach((row, r) => {
  const el = document.getElementById('leg' + (r + 1));
  row.forEach(name => {
    const st = siteStyle[name];
    const item = document.createElement('span');
    const g = document.createElement('span');
    g.className = 'g';
    g.style.color = st.color;
    g.textContent = st.glyph;
    item.appendChild(g);
    item.appendChild(document.createTextNode(name));
    el.appendChild(item);
  });
});
</script>
</body>
</html>
